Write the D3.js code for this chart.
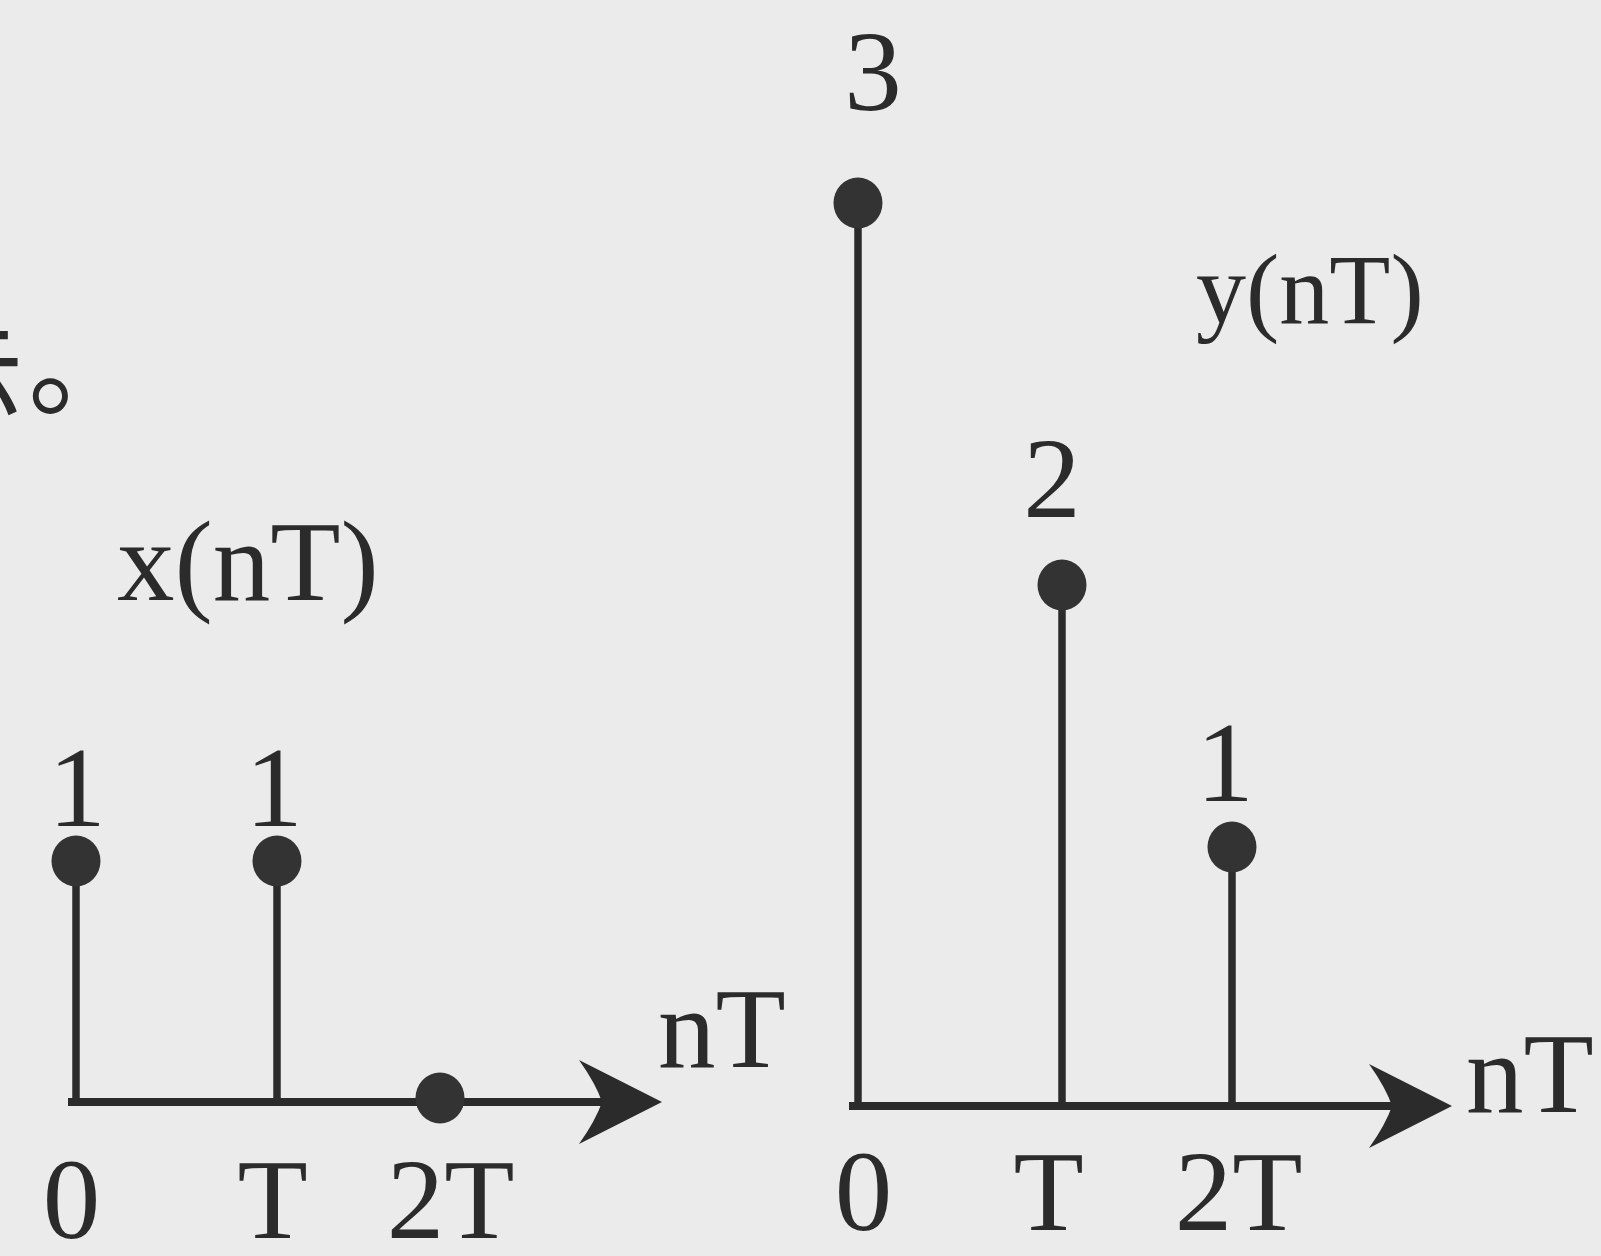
<!DOCTYPE html>
<html>
<head>
<meta charset="utf-8">
<script src="https://cdn.jsdelivr.net/npm/d3@7"></script>
<style>
  html, body { margin: 0; padding: 0; background: #ebebeb; }
  svg { display: block; }
</style>
</head>
<body>
<script>
// Sample positions along the time axis and their tick labels
const sampleIndex = [0, 1, 2];
const sampleLabels = ["0", "T", "2T"];

// Input sequence x(nT) and output sequence y(nT)
const xValues = [1, 1, 0];
const yValues = [3, 2, 1];

const xTitle = "x(nT)";
const yTitle = "y(nT)";
const axisName = "nT";
const leadText = "如图所示";
const leadStop = "。";

const W = 1601, H = 1256;
const ink = "#2b2b2b";
const serif = "'Liberation Serif', 'Times New Roman', serif";
const cjk = "'Noto Sans CJK SC', sans-serif";

const svg = d3.select("body").append("svg")
  .attr("width", W).attr("height", H);

svg.append("rect").attr("width", W).attr("height", H).attr("fill", "#ebebeb");

// Tail of the preceding sentence, running in from the left edge
svg.append("text")
  .attr("x", 24).attr("y", 416)
  .attr("text-anchor", "end")
  .attr("font-family", cjk).attr("font-size", 110)
  .attr("fill", ink)
  .text(leadText);
svg.append("text")
  .attr("x", 28).attr("y", 406)
  .attr("font-family", cjk).attr("font-size", 115)
  .attr("fill", ink)
  .text(leadStop);

// Layout for the two stem plots
const panels = [
  {
    values: xValues,
    title: xTitle,
    titlePos: [117, 600], titleSize: 115,
    sx: d3.scaleLinear().domain([0, 1, 2]).range([76, 277, 440]),
    sy: d3.scaleLinear().domain([0, 1]).range([1102, 861]),
    labelY: d3.scaleLinear().domain([0, 1]).range([1067, 826]),
    labelDx: [1, -3, 0],
    tickDx: [-5, -5, 10],
    axisStart: 68, axisTip: 662,
    namePos: [658, 1067],
    tickY: 1238
  },
  {
    values: yValues,
    title: yTitle,
    titlePos: [1196, 323], titleSize: 100,
    sx: d3.scaleLinear().domain([0, 1, 2]).range([858, 1062, 1232]),
    sy: d3.scaleLinear().domain([0, 1, 2, 3]).range([1106, 847, 585, 203]),
    labelY: d3.scaleLinear().domain([1, 2, 3]).range([801, 517, 110]),
    labelDx: [15, -10, -7],
    tickDx: [5, -14, 6],
    axisStart: 849, axisTip: 1452,
    namePos: [1466, 1112],
    tickY: 1230
  }
];

panels.forEach(p => {
  const g = svg.append("g");
  const base = p.sy(0);
  const pts = sampleIndex.map((n, i) => ({ n, i, v: p.values[i] }));

  // Horizontal axis
  g.append("line")
    .attr("x1", p.axisStart).attr("x2", p.axisTip - 58)
    .attr("y1", base).attr("y2", base)
    .attr("stroke", ink).attr("stroke-width", 8);

  // Barbed arrowhead at the end of the axis
  const t = p.axisTip;
  g.append("path")
    .attr("d", `M${t},${base} L${t - 83},${base - 42} Q${t - 66},${base - 18} ${t - 60},${base}
                Q${t - 66},${base + 18} ${t - 83},${base + 42} Z`)
    .attr("fill", ink);

  g.append("text")
    .attr("x", p.namePos[0]).attr("y", p.namePos[1])
    .attr("font-family", serif).attr("font-size", 115)
    .attr("fill", ink)
    .text(axisName);

  // Tick labels beneath the axis
  const axis = d3.axisBottom(p.sx)
    .tickValues(sampleIndex)
    .tickSize(0)
    .tickFormat((d, i) => sampleLabels[i]);
  const ax = g.append("g")
    .attr("transform", `translate(0,${p.tickY})`)
    .call(axis);
  ax.select(".domain").remove();
  ax.selectAll("text")
    .attr("y", 0).attr("dy", 0)
    .attr("dx", (d, i) => p.tickDx[i])
    .attr("font-family", serif).attr("font-size", 115)
    .attr("fill", ink);

  // Stems
  g.selectAll(".stem").data(pts.filter(d => d.v !== 0)).join("line")
    .attr("class", "stem")
    .attr("x1", d => p.sx(d.n)).attr("x2", d => p.sx(d.n))
    .attr("y1", base).attr("y2", d => p.sy(d.v))
    .attr("stroke", ink).attr("stroke-width", 7.5);

  // Dots
  g.selectAll(".dot").data(pts).join("ellipse")
    .attr("class", "dot")
    .attr("cx", d => p.sx(d.n))
    .attr("cy", d => p.sy(d.v) - (d.v === 0 ? 4 : 0))
    .attr("rx", 24.5).attr("ry", 25.5)
    .attr("fill", "#333");

  // Value labels above the nonzero samples
  g.selectAll(".val").data(pts.filter(d => d.v !== 0)).join("text")
    .attr("class", "val")
    .attr("x", d => p.sx(d.n) + p.labelDx[d.i])
    .attr("y", d => p.labelY(d.v))
    .attr("text-anchor", "middle")
    .attr("font-family", serif).attr("font-size", 115)
    .attr("fill", ink)
    .text(d => d.v);

  // Sequence title
  g.append("text")
    .attr("x", p.titlePos[0]).attr("y", p.titlePos[1])
    .attr("font-family", serif).attr("font-size", p.titleSize)
    .attr("fill", ink)
    .text(p.title);
});
</script>
</body>
</html>
